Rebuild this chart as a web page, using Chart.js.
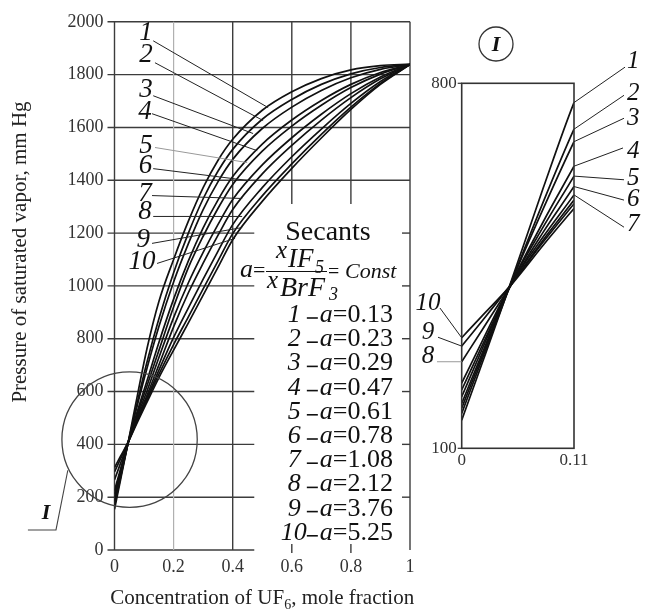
<!DOCTYPE html>
<html>
<head>
<meta charset="utf-8">
<script src="https://cdn.jsdelivr.net/npm/chart.js@4.4.0/dist/chart.umd.min.js"></script>
<style>
  html, body { margin: 0; padding: 0; background: #fff; }
  #wrap { position: relative; width: 645px; height: 612px; }
  #mainChart { position: absolute; left: 0; top: 0; }
  #insetChart { position: absolute; left: 400px; top: 0; }
</style>
</head>
<body>
<div id="wrap">
  <canvas id="mainChart" width="645" height="612"></canvas>
  <canvas id="insetChart" width="245" height="480"></canvas>
</div>
<script>
// concentration of UF6 (mole fraction) where the curves were read
const concentration = [0, 0.02, 0.047, 0.08, 0.11, 0.15, 0.2, 0.25, 0.3, 0.35, 0.4, 0.5, 0.6, 0.7, 0.8, 0.9, 1];

// saturated vapour pressure, mm Hg, one array per secant
const pressure1  = [154, 263, 412, 600, 763, 940, 1100, 1245, 1372, 1475, 1555, 1665, 1735, 1785, 1818, 1834, 1840];
const pressure2  = [167, 271, 410, 573, 712, 875, 1050, 1200, 1330, 1434, 1517, 1631, 1706, 1763, 1803, 1827, 1838];
const pressure3  = [177, 277, 411, 560, 688, 845, 1015, 1160, 1289, 1394, 1479, 1596, 1677, 1740, 1788, 1820, 1838];
const pressure4  = [186, 282, 409, 535, 641, 785, 950, 1095, 1220, 1325, 1414, 1537, 1628, 1702, 1763, 1808, 1838];
const pressure5  = [199, 290, 410, 525, 622, 755, 920, 1069, 1188, 1293, 1384, 1510, 1605, 1684, 1751, 1802, 1838];
const pressure6  = [212, 297, 408, 515, 602, 728, 880, 1012, 1127, 1232, 1327, 1458, 1561, 1650, 1728, 1791, 1838];
const pressure7  = [225, 305, 410, 506, 586, 700, 845, 974, 1086, 1191, 1289, 1424, 1532, 1628, 1713, 1784, 1838];
const pressure8  = [266, 327, 409, 500, 576, 680, 805, 917, 1026, 1131, 1232, 1372, 1489, 1594, 1691, 1774, 1838];
const pressure9  = [296, 344, 411, 496, 569, 665, 778, 883, 989, 1094, 1198, 1341, 1462, 1574, 1677, 1767, 1838];
const pressure10 = [312, 354, 410, 490, 560, 652, 757, 860, 965, 1070, 1175, 1320, 1445, 1560, 1668, 1763, 1838];
const pressureSeries = [pressure1, pressure2, pressure3, pressure4, pressure5,
                        pressure6, pressure7, pressure8, pressure9, pressure10];

const curveNames = ['1', '2', '3', '4', '5', '6', '7', '8', '9', '10'];
const secantValues = ['0.13', '0.23', '0.29', '0.47', '0.61', '0.78', '1.08', '2.12', '3.76', '5.25'];

// label / leader placement on the main plot (data units)
const mainLabelX  = [0.107, 0.107, 0.107, 0.103, 0.107, 0.105, 0.103, 0.103, 0.097, 0.093];
const mainLabelY  = [1959, 1875, 1743, 1660, 1531, 1456, 1350, 1282, 1176, 1089];
const leaderFromX = [0.131, 0.137, 0.131, 0.127, 0.137, 0.131, 0.127, 0.131, 0.127, 0.144];
const leaderFromY = [1928, 1845, 1720, 1652, 1524, 1444, 1342, 1263, 1161, 1085];
const leaderToX   = [0.520, 0.503, 0.469, 0.483, 0.449, 0.453, 0.432, 0.432, 0.432, 0.408];
const leaderToY   = [1675, 1626, 1577, 1512, 1467, 1399, 1331, 1263, 1221, 1180];

// inset (detail I) labels: right side for curves 1-7, left side for 8-10
const insetRightEndX = [0.160, 0.159, 0.159, 0.158, 0.159, 0.159, 0.159];
const insetRightEndY = [831, 777, 733, 676, 615, 576, 524];
const insetRightLabelY = [841, 781, 733, 670, 618, 578, 530];
const insetLeftEndX = [-0.0242, -0.0232, -0.0213];
const insetLeftEndY = [266, 313, 369];
const insetLeftLabelY = [277, 323, 377];

const SERIF = '"Liberation Serif", "Times New Roman", serif';

function seg(ctx, x1, y1, x2, y2) {
    ctx.beginPath();
    ctx.moveTo(x1, y1);
    ctx.lineTo(x2, y2);
    ctx.stroke();
}

function buildDatasets(width) {
    return pressureSeries.map(vals => ({
        data: concentration.map((c, i) => ({ x: c, y: vals[i] })),
        borderColor: '#111',
        borderWidth: width,
        pointRadius: 0,
        fill: false,
        cubicInterpolationMode: 'monotone'
    }));
}

const mainDecor = {
    id: 'mainDecor',
    beforeDatasetsDraw(chart) {
        const { ctx, chartArea: a, scales: { x, y } } = chart;
        ctx.save();
        ctx.strokeStyle = '#3c3c3c';
        ctx.lineWidth = 1.4;
        const shortEnd = x.getPixelForValue(0.473);
        y.ticks.forEach(t => {
            const py = y.getPixelForValue(t.value);
            const xEnd = t.value >= 1400 ? a.right : shortEnd;
            seg(ctx, a.left - 7, py, xEnd, py);
            if (t.value > 0 && t.value < 1400) seg(ctx, a.right - 8, py, a.right, py);
        });
        const stopPx = y.getPixelForValue(1310);
        x.ticks.forEach(t => {
            const px = x.getPixelForValue(t.value);
            if (Math.abs(t.value - 0.2) < 1e-6) {
                ctx.strokeStyle = '#b0b0b0';
                ctx.lineWidth = 1.2;
                seg(ctx, px, a.top, px, a.bottom);
                ctx.strokeStyle = '#3c3c3c';
                ctx.lineWidth = 1.4;
            } else if (t.value > 0.5 && t.value < 0.99) {
                seg(ctx, px, a.top, px, stopPx);
                seg(ctx, px, a.bottom - 6, px, a.bottom + 3);
            } else {
                seg(ctx, px, a.top, px, a.bottom);
            }
        });
        ctx.restore();
    },
    afterDraw(chart) {
        const { ctx, chartArea: a, scales: { x, y } } = chart;
        ctx.save();
        ctx.fillStyle = '#111';
        ctx.strokeStyle = '#222';

        // curve labels with leader lines
        ctx.font = 'italic 27px ' + SERIF;
        ctx.textAlign = 'center';
        ctx.textBaseline = 'middle';
        curveNames.forEach((name, i) => {
            ctx.lineWidth = 1;
            ctx.strokeStyle = i === 4 ? '#999' : '#222';
            seg(ctx, x.getPixelForValue(leaderFromX[i]), y.getPixelForValue(leaderFromY[i]),
                x.getPixelForValue(leaderToX[i]), y.getPixelForValue(leaderToY[i]));
            ctx.fillText(name, x.getPixelForValue(mainLabelX[i]), y.getPixelForValue(mainLabelY[i]));
        });

        // circle marking detail I
        ctx.strokeStyle = '#444';
        ctx.lineWidth = 1.3;
        const cx = x.getPixelForValue(0.051), cy = y.getPixelForValue(418);
        const r = x.getPixelForValue(0.229) - x.getPixelForValue(0);
        ctx.beginPath();
        ctx.arc(cx, cy, r, 0, Math.PI * 2);
        ctx.stroke();
        ctx.lineWidth = 1.1;
        ctx.beginPath();
        ctx.moveTo(x.getPixelForValue(-0.158), y.getPixelForValue(302));
        ctx.lineTo(x.getPixelForValue(-0.198), y.getPixelForValue(76));
        ctx.lineTo(x.getPixelForValue(-0.293), y.getPixelForValue(76));
        ctx.stroke();
        ctx.font = 'bold italic 22px ' + SERIF;
        ctx.fillText('I', x.getPixelForValue(-0.232), y.getPixelForValue(140));

        // secants legend block
        ctx.textBaseline = 'alphabetic';
        ctx.textAlign = 'center';
        ctx.font = '28px ' + SERIF;
        ctx.fillText('Secants', 328, 240);
        ctx.textAlign = 'left';
        ctx.font = 'italic 26px ' + SERIF;
        ctx.fillText('a', 240, 277);
        ctx.font = '22px ' + SERIF;
        ctx.fillText('=', 253, 277);
        ctx.font = 'italic 25px ' + SERIF;
        ctx.fillText('x', 276, 258);
        ctx.font = 'italic 27px ' + SERIF;
        ctx.fillText('IF', 288, 267);
        ctx.font = 'italic 18px ' + SERIF;
        ctx.fillText('5', 315, 273);
        ctx.lineWidth = 1.2;
        ctx.strokeStyle = '#111';
        seg(ctx, 266, 271.5, 327, 271.5);
        ctx.font = 'italic 25px ' + SERIF;
        ctx.fillText('x', 267, 288);
        ctx.font = 'italic 28px ' + SERIF;
        ctx.fillText('BrF', 280, 296);
        ctx.font = 'italic 18px ' + SERIF;
        ctx.fillText('3', 329, 300);
        ctx.font = '20px ' + SERIF;
        ctx.fillText('=', 328, 278);
        ctx.font = 'italic 22px ' + SERIF;
        ctx.fillText('Const', 345, 278);

        // a values list, right aligned
        const right = 393;
        secantValues.forEach((val, i) => {
            const base = 322 + i * 24.2;
            ctx.font = '26px ' + SERIF;
            const wVal = ctx.measureText(val).width;
            const wEq = ctx.measureText('=').width;
            ctx.font = 'italic 26px ' + SERIF;
            const wA = ctx.measureText('a').width;
            const wNum = ctx.measureText(curveNames[i]).width;
            let px = right - wVal;
            ctx.font = '26px ' + SERIF;
            ctx.fillText(val, px, base);
            px -= wEq;
            ctx.fillText('=', px, base);
            px -= wA;
            ctx.font = 'italic 26px ' + SERIF;
            ctx.fillText('a', px, base);
            px -= 2;
            ctx.lineWidth = 1.6;
            seg(ctx, px - 11, base - 4, px, base - 4);
            px -= 11 + (i === 9 ? 0 : 6);
            ctx.fillText(curveNames[i], px - wNum, base);
        });

        // axis titles
        ctx.fillStyle = '#222';
        ctx.save();
        ctx.translate(20, 252);
        ctx.rotate(-Math.PI / 2);
        ctx.textAlign = 'center';
        ctx.textBaseline = 'middle';
        ctx.font = '21px ' + SERIF;
        ctx.fillText('Pressure of saturated vapor, mm Hg', 0, 0);
        ctx.restore();

        const partA = 'Concentration of UF', partB = '6', partC = ', mole fraction';
        ctx.font = '21px ' + SERIF;
        const wA2 = ctx.measureText(partA).width, wC = ctx.measureText(partC).width;
        ctx.font = '14px ' + SERIF;
        const wB = ctx.measureText(partB).width;
        let tx = (a.left + a.right) / 2 - (wA2 + wB + wC) / 2;
        const tb = 604;
        ctx.textAlign = 'left';
        ctx.font = '21px ' + SERIF;
        ctx.fillText(partA, tx, tb);
        tx += wA2;
        ctx.font = '14px ' + SERIF;
        ctx.fillText(partB, tx, tb + 5);
        tx += wB;
        ctx.font = '21px ' + SERIF;
        ctx.fillText(partC, tx, tb);
        ctx.restore();
    }
};

const insetDecor = {
    id: 'insetDecor',
    afterDraw(chart) {
        const { ctx, chartArea: a, scales: { x, y } } = chart;
        ctx.save();
        ctx.strokeStyle = '#333';
        ctx.lineWidth = 1.6;
        ctx.strokeRect(a.left, a.top, a.right - a.left, a.bottom - a.top);
        ctx.lineWidth = 1.2;
        y.ticks.forEach(t => {
            const py = y.getPixelForValue(t.value);
            seg(ctx, a.left - 4, py, a.left, py);
        });

        // circled I title
        ctx.lineWidth = 1.3;
        ctx.beginPath();
        ctx.arc(96, 44, 17, 0, Math.PI * 2);
        ctx.stroke();
        ctx.fillStyle = '#111';
        ctx.textAlign = 'center';
        ctx.textBaseline = 'middle';
        ctx.font = 'bold italic 22px ' + SERIF;
        ctx.fillText('I', 96, 45);

        ctx.font = 'italic 25px ' + SERIF;
        ctx.lineWidth = 1;
        ctx.strokeStyle = '#222';
        for (let i = 0; i < 7; i++) {
            seg(ctx, x.getPixelForValue(0.11), y.getPixelForValue(pressureSeries[i][4]),
                x.getPixelForValue(insetRightEndX[i]), y.getPixelForValue(insetRightEndY[i]));
            ctx.fillText(curveNames[i], x.getPixelForValue(0.168), y.getPixelForValue(insetRightLabelY[i]));
        }
        for (let k = 0; k < 3; k++) {
            const i = 7 + k;
            ctx.strokeStyle = k === 0 ? '#999' : '#222';
            seg(ctx, x.getPixelForValue(0), y.getPixelForValue(pressureSeries[i][0]),
                x.getPixelForValue(insetLeftEndX[k]), y.getPixelForValue(insetLeftEndY[k]));
            ctx.fillText(curveNames[i], x.getPixelForValue(-0.033), y.getPixelForValue(insetLeftLabelY[k]));
        }
        ctx.restore();
    }
};

const mainChart = new Chart(document.getElementById('mainChart'), {
    type: 'line',
    data: { datasets: buildDatasets(1.7) },
    options: {
        responsive: false,
        animation: false,
        layout: { padding: { top: 21, right: 235, left: 0, bottom: 0 } },
        plugins: { legend: { display: false }, tooltip: { enabled: false } },
        scales: {
            x: {
                type: 'linear', min: 0, max: 1,
                afterFit: s => { s.height = 62; },
                grid: { display: false, drawTicks: false },
                border: { display: false },
                ticks: {
                    stepSize: 0.2, maxRotation: 0, autoSkip: false, padding: 6,
                    color: '#333', font: { family: SERIF, size: 18 },
                    callback: v => String(Math.round(v * 10) / 10)
                }
            },
            y: {
                min: 0, max: 2000,
                afterFit: s => { s.width = 114.5; },
                grid: { display: false, drawTicks: false },
                border: { display: false },
                ticks: {
                    stepSize: 200, padding: 11,
                    color: '#333', font: { family: SERIF, size: 18 },
                    callback: v => String(v)
                }
            }
        }
    },
    plugins: [mainDecor]
});

const insetChart = new Chart(document.getElementById('insetChart'), {
    type: 'line',
    data: { datasets: buildDatasets(1.7) },
    options: {
        responsive: false,
        animation: false,
        layout: { padding: { top: 83.3, right: 71, left: 0, bottom: 0 } },
        plugins: { legend: { display: false }, tooltip: { enabled: false } },
        scales: {
            x: {
                type: 'linear', min: 0, max: 0.11,
                afterFit: s => { s.height = 31.7; },
                afterBuildTicks: s => { s.ticks = [{ value: 0 }, { value: 0.11 }]; },
                grid: { display: false, drawTicks: false },
                border: { display: false },
                ticks: {
                    maxRotation: 0, autoSkip: false, padding: 2,
                    color: '#333', font: { family: SERIF, size: 17 },
                    callback: v => String(v)
                }
            },
            y: {
                min: 100, max: 800,
                afterFit: s => { s.width = 61.7; },
                afterBuildTicks: s => { s.ticks = [{ value: 100 }, { value: 800 }]; },
                grid: { display: false, drawTicks: false },
                border: { display: false },
                ticks: {
                    padding: 5,
                    color: '#333', font: { family: SERIF, size: 17 },
                    callback: v => String(v)
                }
            }
        }
    },
    plugins: [insetDecor]
});
</script>
</body>
</html>
